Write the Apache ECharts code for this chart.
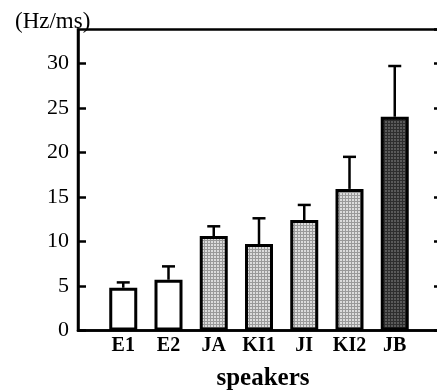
<!DOCTYPE html>
<html><head><meta charset="utf-8">
<script src="https://cdn.jsdelivr.net/npm/echarts@6/dist/echarts.min.js"></script>
<style>html,body{margin:0;padding:0;background:#fff}#c{width:437px;height:391px}</style>
</head><body><div id="c"></div>
<script>
const categories = ['', 'E1', 'E2', 'JA', 'KI1', 'JI', 'KI2', 'JB', ''];
const means = [null, 4.8, 5.7, 10.6, 9.7, 12.4, 15.9, 24.0, null];
const upper = [null, 5.4, 7.2, 11.7, 12.6, 14.1, 19.5, 29.7, null];
const fillKind = [null, 'white', 'white', 'light', 'light', 'light', 'light', 'dark', null];

function makePattern(bg, fg, step) {
  const c = document.createElement('canvas');
  c.width = step; c.height = step;
  const g = c.getContext('2d');
  g.fillStyle = bg; g.fillRect(0, 0, step, step);
  g.fillStyle = fg;
  g.fillRect(0, 0, 1, step);
  g.fillRect(0, 0, step, 1);
  return { image: c, repeat: 'repeat' };
}
const fills = {
  white: '#ffffff',
  light: makePattern('#dcdcdc', '#9a9a9a', 3),
  dark: makePattern('#5a5a5a', '#2e2e2e', 3)
};

const chart = echarts.init(document.getElementById('c'), null, { renderer: 'canvas' });
const serif = 'Liberation Serif, Times New Roman, serif';
chart.setOption({
  animation: false,
  title: {
    text: '(Hz/ms)', left: 10, top: 5,
    textStyle: { fontFamily: serif, fontSize: 23, fontWeight: 'normal', color: '#000' }
  },
  grid: { left: 78, top: 29.5, width: 362, height: 301, show: true, borderColor: '#000', borderWidth: 2.5, containLabel: false, outerBoundsMode: 'none' },
  xAxis: {
    type: 'category', data: categories, boundaryGap: false,
    axisLine: { lineStyle: { color: '#000', width: 2.5 } },
    axisTick: { show: false },
    axisLabel: { fontFamily: serif, fontSize: 20, fontWeight: 'bold', color: '#000', margin: 5, interval: 0 },
    name: 'speakers', nameLocation: 'middle', nameGap: 36,
    nameTextStyle: { fontFamily: serif, fontSize: 25, fontWeight: 'bold', color: '#000', padding: [0, 0, 0, 8] },
    splitLine: { show: false }
  },
  yAxis: [{
    type: 'value', min: 0, max: 33.8, interval: 5, position: 'left',
    axisLine: { show: true, lineStyle: { color: '#000', width: 2.5 } },
    axisTick: { show: true, inside: true, length: 8, lineStyle: { color: '#000', width: 2.5 } },
    axisLabel: { fontFamily: serif, fontSize: 22, color: '#000', margin: 9, showMaxLabel: false },
    splitLine: { show: false }
  }, {
    type: 'value', min: 0, max: 33.8, interval: 5, position: 'right',
    axisLine: { show: true, lineStyle: { color: '#000', width: 2.5 } },
    axisTick: { show: true, inside: true, length: 6, lineStyle: { color: '#000', width: 2.5 } },
    axisLabel: { show: false },
    splitLine: { show: false }
  }],
  series: [{
    type: 'custom',
    z: 1,
    data: categories.map((c, i) => [i, means[i], upper[i]]),
    renderItem: function (params, api) {
      const m = api.value(1), u = api.value(2);
      if (m == null || isNaN(m) || u == null || isNaN(u)) return null;
      const i = api.value(0);
      const p0 = api.coord([i, m]);
      const p1 = api.coord([i, u]);
      const hw = 6.5;
      const style = { stroke: '#000', lineWidth: 2.5 };
      return {
        type: 'group',
        children: [
          { type: 'line', shape: { x1: p0[0], y1: p0[1], x2: p1[0], y2: p1[1] }, style: style },
          { type: 'line', shape: { x1: p1[0] - hw, y1: p1[1], x2: p1[0] + hw, y2: p1[1] }, style: style }
        ]
      };
    }
  }, {
    type: 'bar',
    z: 2,
    barWidth: 28,
    data: means.map((v, i) => v == null ? null : {
      value: v,
      itemStyle: { color: fills[fillKind[i]], borderColor: '#000', borderWidth: 3 }
    })
  }]
});
</script></body></html>
